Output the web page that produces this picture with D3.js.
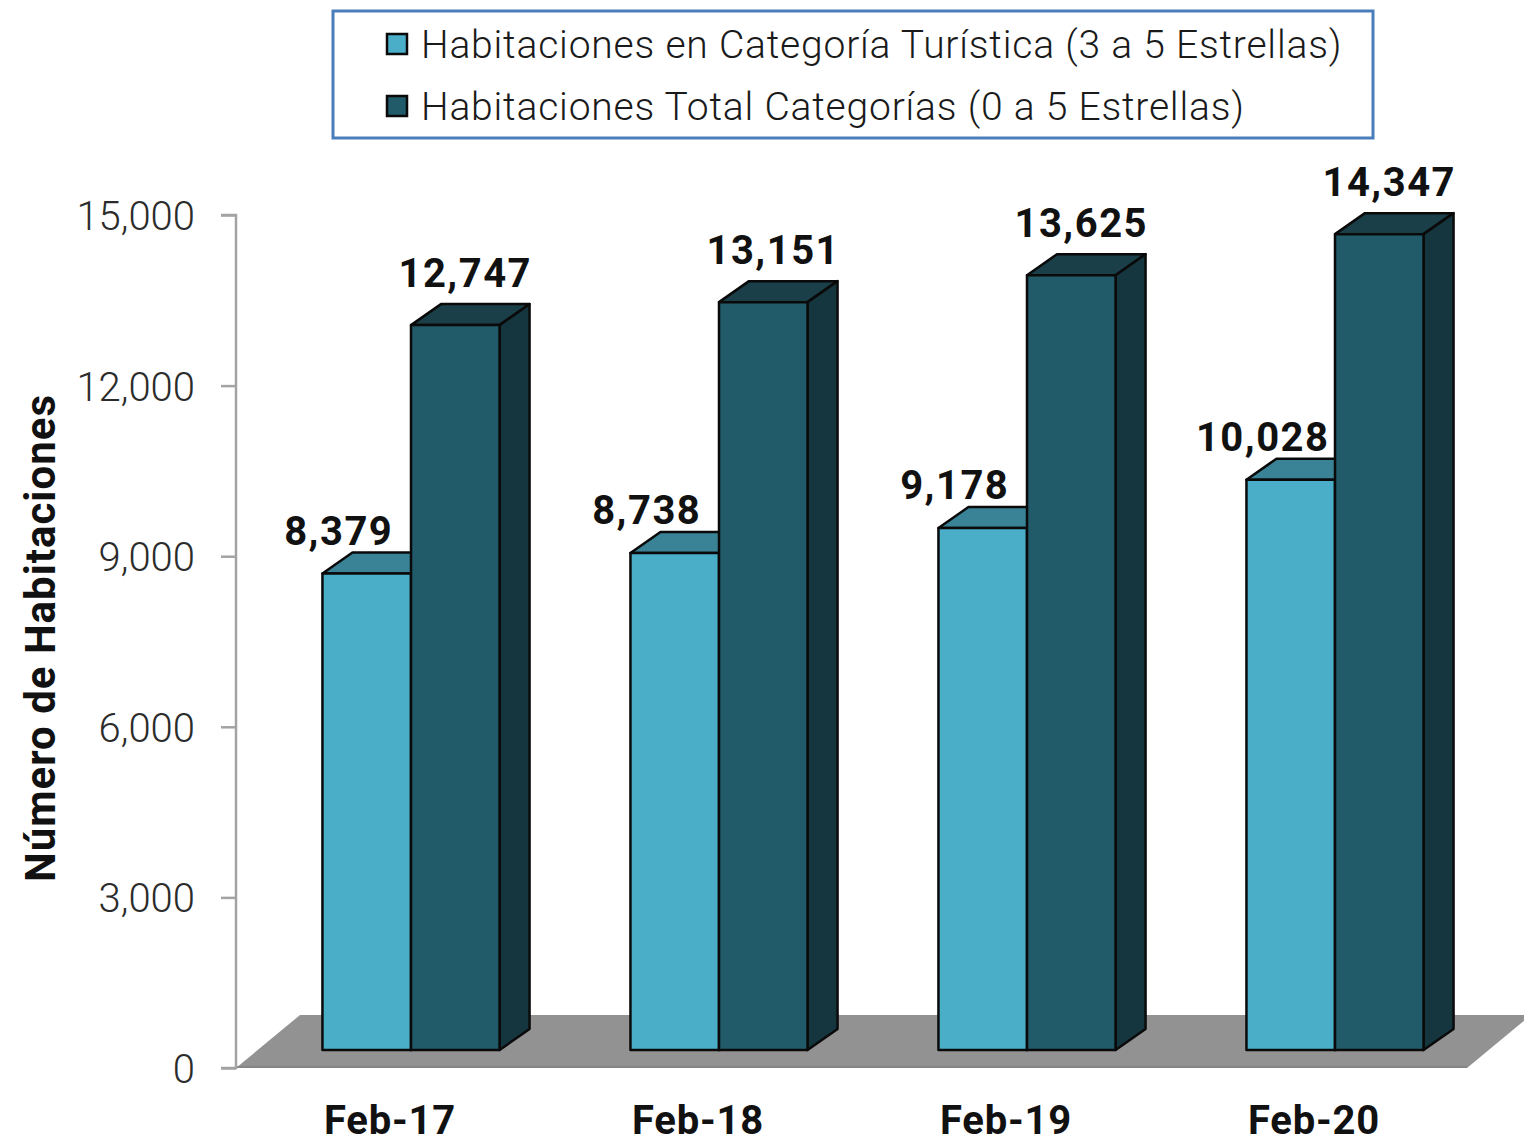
<!DOCTYPE html>
<html>
<head>
<meta charset="utf-8">
<script src="https://cdn.jsdelivr.net/npm/d3@7"></script>
<style>
  body { margin: 0; background: #fff; }
  text { font-family: Roboto, "Noto Sans", sans-serif; }
</style>
</head>
<body>
<script>
var w = 1524
var h = 1144

// data
var categories = ["Feb-17", "Feb-18", "Feb-19", "Feb-20"]
var turistica = [8379, 8738, 9178, 10028]
var total = [12747, 13151, 13625, 14347]
var seriesNames = ["Habitaciones en Categoría Turística (3 a 5 Estrellas)",
                   "Habitaciones Total Categorías (0 a 5 Estrellas)"]
var yTicks = [0, 3000, 6000, 9000, 12000, 15000]

var colors = [
  {front: "#4aaec8", top: "#3a8397", side: "#2f6b7c"},
  {front: "#215a68", top: "#1b3f48", side: "#15363f"}
]

var depth = {dx: 30, dy: -21}
var floorDepth = {dx: 64, dy: -53}

var svg = d3.select("body")
  .append("svg")
  .attr("width", w)
  .attr("height", h)

// axis scale and bar scale (bars sit a bit back from the front of the floor)
var y = d3.scaleLinear().domain([0, 15000]).range([1068, 215])
var yBar = d3.scaleLinear().domain([0, 15000]).range([1050, 197])

var x = d3.scaleBand()
  .domain(categories)
  .range([257, 1489])
  .paddingInner(0.425)
  .paddingOuter(0.2125)

// floor
var fx0 = 236, fx1 = 1467, fy = y(0)
svg.append("path")
  .attr("d", "M" + fx0 + "," + fy + "L" + (fx0 + floorDepth.dx) + "," + (fy + floorDepth.dy) +
    "L" + (fx1 + floorDepth.dx) + "," + (fy + floorDepth.dy) + "L" + fx1 + "," + fy + "Z")
  .attr("fill", "#929292")
svg.append("line")
  .attr("x1", fx0).attr("x2", fx1)
  .attr("y1", fy - 1).attr("y2", fy - 1)
  .attr("stroke", "#858585").attr("stroke-width", 2)

// y axis
var axis = svg.append("g")
  .attr("transform", "translate(236,0)")
  .call(d3.axisLeft(y).tickValues(yTicks).tickSize(15).tickPadding(26).tickFormat(d3.format(",")))
axis.selectAll("path, line").attr("stroke", "#a3a3a3").attr("stroke-width", 2.5)
axis.select(".domain").attr("d", "M-15," + y(15000) + "H0V" + y(0) + "H-15")
axis.selectAll("text")
  .attr("fill", "#2b2b2b")
  .style("font-size", "40px")
  .style("font-weight", 300)
  .attr("dy", "0.36em")

svg.append("text")
  .attr("transform", "translate(55,638) rotate(-90)")
  .attr("text-anchor", "middle")
  .style("font-size", "42px")
  .style("font-weight", 700)
  .style("letter-spacing", "1px")
  .attr("fill", "#111")
  .text("Número de Habitaciones")

// 3D bars
function drawBar(g, x0, bw, val, c) {
  var yt = yBar(val), yb = yBar(0)
  var x1 = x0 + bw
  g.append("path")
    .attr("d", "M" + x0 + "," + yt + "L" + (x0 + depth.dx) + "," + (yt + depth.dy) +
      "L" + (x1 + depth.dx) + "," + (yt + depth.dy) + "L" + x1 + "," + yt + "Z")
    .attr("fill", c.top)
  g.append("path")
    .attr("d", "M" + x1 + "," + yt + "L" + (x1 + depth.dx) + "," + (yt + depth.dy) +
      "L" + (x1 + depth.dx) + "," + (yb + depth.dy) + "L" + x1 + "," + yb + "Z")
    .attr("fill", c.side)
  g.append("rect")
    .attr("x", x0).attr("y", yt)
    .attr("width", bw).attr("height", yb - yt)
    .attr("fill", c.front)
  g.selectAll("path, rect")
    .attr("stroke", "#0a0a0a").attr("stroke-width", 2.5).attr("stroke-linejoin", "round")
}

var half = x.bandwidth() / 2
var labelShift = [-28, 10]
var labelLift = [8, 17]
categories.forEach(function(cat, i) {
  var vals = [turistica[i], total[i]]
  vals.forEach(function(v, s) {
    var g = svg.append("g")
    var x0 = x(cat) + s * half
    drawBar(g, x0, half, v, colors[s])
  })
})

// value labels
categories.forEach(function(cat, i) {
  var vals = [turistica[i], total[i]]
  vals.forEach(function(v, s) {
    var x0 = x(cat) + s * half
    svg.append("text")
      .attr("x", x0 + half / 2 + labelShift[s])
      .attr("y", yBar(v) + depth.dy - labelLift[s])
      .attr("text-anchor", "middle")
      .style("font-size", "40px")
      .style("font-weight", 700)
      .style("letter-spacing", "1.5px")
      .attr("fill", "#111")
      .text(d3.format(",")(v))
  })
})

// category labels
svg.selectAll(".cat")
  .data(categories)
  .enter().append("text")
  .attr("class", "cat")
  .attr("x", function(d) { return x(d) + x.bandwidth() / 2 - 21 })
  .attr("y", 1134)
  .attr("text-anchor", "middle")
  .style("font-size", "40px")
  .style("font-weight", 700)
  .style("letter-spacing", "0.8px")
  .attr("fill", "#111")
  .text(function(d) { return d })

// legend
var legend = svg.append("g")
legend.append("rect")
  .attr("x", 333).attr("y", 11)
  .attr("width", 1040).attr("height", 127)
  .attr("fill", "#fff")
  .attr("stroke", "#4a7ebb").attr("stroke-width", 3)

seriesNames.forEach(function(name, s) {
  var ly = 44 + s * 62
  legend.append("rect")
    .attr("x", 387).attr("y", ly - 10)
    .attr("width", 20).attr("height", 20)
    .attr("fill", colors[s].front)
    .attr("stroke", "#0a0a0a").attr("stroke-width", 2.5)
  legend.append("text")
    .attr("x", 421).attr("y", ly)
    .attr("dy", "0.36em")
    .style("font-size", "39px")
    .style("font-weight", 300)
    .style("letter-spacing", "0.8px")
    .attr("fill", "#1a1a1a")
    .text(name)
})
</script>
</body>
</html>
